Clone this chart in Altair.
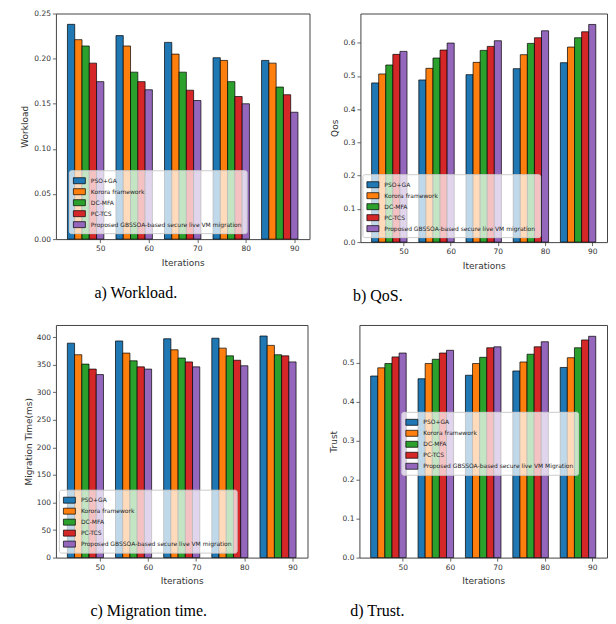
import altair as alt
import pandas as pd

iterations = [50, 60, 70, 80, 90]
series = ["PSO+GA", "Korora framework", "DC-MFA", "PC-TCS",
          "Proposed GBSSOA-based secure live VM migration"]
series_trust = ["PSO+GA", "Korora framework", "DC-MFA", "PC-TCS",
                "Proposed GBSSOA-based secure live VM Migration"]
colors = ["#1f77b4", "#ff7f0e", "#2ca02c", "#d62728", "#9467bd"]

# one row per series, one value per iteration
workload = [
    [0.238, 0.2255, 0.218, 0.201, 0.198],
    [0.221, 0.214, 0.205, 0.198, 0.195],
    [0.214, 0.185, 0.185, 0.1745, 0.1685],
    [0.195, 0.1745, 0.165, 0.158, 0.160],
    [0.1745, 0.1655, 0.1536, 0.150, 0.1406],
]
qos = [
    [0.479, 0.488, 0.504, 0.522, 0.540],
    [0.506, 0.523, 0.541, 0.564, 0.587],
    [0.533, 0.554, 0.577, 0.598, 0.615],
    [0.565, 0.578, 0.589, 0.615, 0.633],
    [0.574, 0.599, 0.606, 0.636, 0.655],
]
migration = [
    [389, 393, 397, 398, 402],
    [368, 371, 377, 380, 385],
    [351, 357, 362, 366, 368],
    [342, 346, 355, 358, 366],
    [332, 342, 346, 348, 355],
]
trust = [
    [0.466, 0.459, 0.468, 0.479, 0.488],
    [0.487, 0.498, 0.498, 0.502, 0.513],
    [0.498, 0.509, 0.514, 0.522, 0.5385],
    [0.515, 0.525, 0.5385, 0.541, 0.5586],
    [0.525, 0.532, 0.541, 0.554, 0.568],
]


def table(values, names):
    rows = []
    for i, name in enumerate(names):
        for j, it in enumerate(iterations):
            rows.append({"iter": it, "series": name, "idx": i, "value": values[i][j]})
    return pd.DataFrame(rows)


AX = dict(domain=False, grid=False, tickColor="#444", tickSize=3.5, tickWidth=0.8,
          labelFont="DejaVu Sans", labelFontSize=7.5, labelColor="#333",
          titleFont="DejaVu Sans", titleFontSize=9, titleFontWeight="normal",
          titleColor="#333", labelPadding=2)


def panel(values, names, ytitle, ymax, yticks, yfmt, w, h, lx, ly,
          caption, cap_dx, title_pad):
    df = table(values, names)
    return alt.Chart(df).transform_calculate(
        x0="datum.iter + (datum.idx - 4) * 1.5 - 0.75",
        x1="datum.iter + (datum.idx - 4) * 1.5 + 0.75",
    ).mark_bar(stroke="black", strokeWidth=0.7, opacity=1).encode(
        x=alt.X("x0:Q",
                scale=alt.Scale(domain=[40.875, 93.125], nice=False, zero=False),
                axis=alt.Axis(values=iterations, format="d", title="Iterations",
                              titlePadding=6, **AX)),
        x2="x1:Q",
        y=alt.Y("value:Q",
                scale=alt.Scale(domain=[0, ymax], nice=False),
                axis=alt.Axis(values=yticks, format=yfmt, title=ytitle,
                              titlePadding=title_pad, **AX)),
        y2=alt.datum(0),
        color=alt.Color("series:N",
                        scale=alt.Scale(domain=names, range=colors),
                        legend=alt.Legend(
                            title=None, orient="none", legendX=lx, legendY=ly,
                            fillColor="rgba(255,255,255,0.72)",
                            strokeColor="#cccccc", cornerRadius=2, padding=4,
                            symbolType="M-1,-0.5H1V0.5H-1Z", symbolSize=144,
                            symbolStrokeColor="black", symbolStrokeWidth=0.7,
                            symbolOpacity=1, labelFont="DejaVu Sans",
                            labelFontSize=6, labelColor="#222",
                            labelOffset=5, rowPadding=-1.5, labelLimit=400)),
    ).properties(
        width=w, height=h,
        title=alt.TitleParams(caption, orient="bottom", anchor="middle",
                              dx=cap_dx, offset=18, font="Liberation Serif",
                              fontSize=16, fontWeight="normal", color="black"),
    )


a = panel(workload, series, "Workload", 0.25,
          [0, 0.05, 0.10, 0.15, 0.20, 0.25], ".2f", 254, 226, 13, 157,
          "a) Workload.", -47, 4)
b = panel(qos, series, "Qos", 0.688,
          [0, 0.1, 0.2, 0.3, 0.4, 0.5, 0.6], ".1f", 247, 229, 2, 161,
          "b) QoS.", -106, 4)
c = panel(migration, series, "Migration Time(ms)", 422,
          [0, 50, 100, 150, 200, 250, 300, 350, 400], "d", 252, 233, 3, 165,
          "c) Migration time.", -33, 3)
d = panel(trust, series_trust, "Trust", 0.597,
          [0, 0.1, 0.2, 0.3, 0.4, 0.5], ".1f", 248, 233, 42, 87,
          "d) Trust.", -106, 4)


def indep(ch):
    return ch.resolve_scale(color="independent").resolve_legend(color="independent")


row1 = indep(alt.hconcat(a, b, spacing=19))
row2 = indep(alt.hconcat(c, d, spacing=20))

chart = indep(alt.vconcat(row1, row2, spacing=19)).properties(
    padding={"left": 12, "top": 0, "right": 0, "bottom": 0}
).configure_view(
    stroke="#444", strokeWidth=1
)

chart.save("out.html", embed_options={"renderer": "svg", "actions": False})
